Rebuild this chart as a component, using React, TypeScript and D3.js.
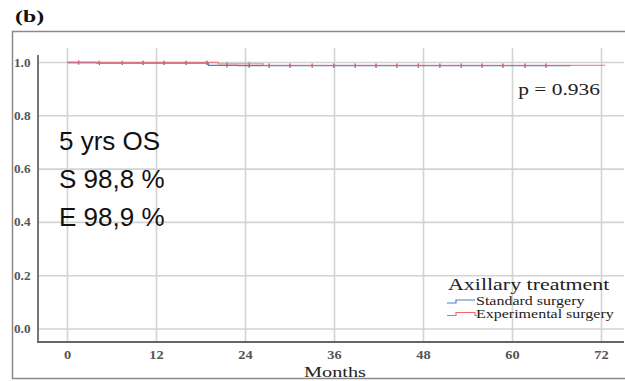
import React from "react";
import * as d3 from "d3";

const xTicks = [0, 12, 24, 36, 48, 60, 72];
const yTicks = [0.0, 0.2, 0.4, 0.6, 0.8, 1.0];

// Kaplan-Meier steps: [month, survival]
const standardSteps: [number, number][] = [
  [0, 1.0], [4, 0.998], [19, 0.989], [23, 0.988], [67.8, 0.988],
];
const experimentalSteps: [number, number][] = [
  [0, 1.0], [20.3, 0.995], [26.4, 0.989], [72.5, 0.989],
];
const censorMonths = [
  1.5, 4.3, 7.4, 10.2, 13.0, 16.0, 18.8, 21.5, 24.5, 27.2, 30.0, 33.0,
  35.9, 38.8, 41.6, 44.4, 47.3, 50.2, 53.1, 55.9, 58.7, 61.7, 64.5,
];
const annotationLines = ["5 yrs OS", "S 98,8 %", "E 98,9 %"];
const legendItems = [
  { label: "Standard surgery", color: "#4a7fd6" },
  { label: "Experimental surgery", color: "#f06a6a" },
];

function survAt(steps: [number, number][], t: number) {
  let v = steps[0][1];
  for (const [m, s] of steps) if (m <= t) v = s;
  return v;
}

const serif = "'Liberation Serif', 'DejaVu Serif', serif";

function SText(props: {
  x: number; y: number; sx: number; size: number; anchor?: string;
  weight?: string; fill?: string; children: React.ReactNode;
}) {
  const { x, y, sx, size, anchor, weight, fill, children } = props;
  return (
    <text
      transform={`translate(${x},${y}) scale(${sx},1)`}
      textAnchor={anchor || "start"}
      fontFamily={serif}
      fontWeight={weight || "normal"}
      fontSize={size}
      fill={fill || "#222"}
    >
      {children}
    </text>
  );
}

export default function App() {
  const W = 625, H = 381;
  const x = d3.scaleLinear().domain([0, 72]).range([67.5, 601.5]);
  const y = d3.scaleLinear().domain([0, 1]).range([329, 62.5]);
  const line = d3
    .line<[number, number]>()
    .x((d) => x(d[0]))
    .y((d) => y(d[1]))
    .curve(d3.curveStepAfter);
  const blue = legendItems[0].color;
  const red = legendItems[1].color;
  const stdEnd = standardSteps[standardSteps.length - 1][0];

  return (
    <svg width={W} height={H} style={{ position: "absolute", left: 0, top: 0 }}>
      <rect width={W} height={H} fill="#fff" />
      <SText x={15} y={22} sx={1.4} size={17} weight="bold" fill="#111">(b)</SText>
      {/* frame */}
      <path d={`M${W},31.5H12.5V378.5H${W}`} fill="none" stroke="#8a8a8a" strokeWidth={1.5} />
      {/* grid */}
      {xTicks.map((t) => (
        <line key={"gx" + t} x1={x(t)} x2={x(t)} y1={48} y2={341} stroke="#d3d3d3" strokeWidth={1.6} />
      ))}
      {yTicks.map((t) => (
        <line key={"gy" + t} x1={38} x2={624} y1={y(t)} y2={y(t)} stroke="#d3d3d3" strokeWidth={1.6} />
      ))}
      {/* axes */}
      <line x1={38} x2={38} y1={55} y2={342} stroke="#666" strokeWidth={1.8} />
      <line x1={37} x2={624} y1={342} y2={342} stroke="#666" strokeWidth={1.8} />
      {yTicks.map((t) => (
        <SText key={"yl" + t} x={14} y={y(t) + 4} sx={1.15} size={11.5} weight="bold" fill="#555">
          {t.toFixed(1)}
        </SText>
      ))}
      {xTicks.map((t) => (
        <SText key={"xl" + t} x={x(t)} y={359} sx={1.25} size={11.5} anchor="middle" weight="bold" fill="#555">
          {t}
        </SText>
      ))}
      <SText x={335} y={377} sx={1.35} size={15} anchor="middle" fill="#222">Months</SText>
      {/* curves */}
      <path d={line(standardSteps) || ""} fill="none" stroke={blue} strokeWidth={1.3} />
      {censorMonths.filter((m) => m < stdEnd).map((m) => (
        <line key={"cb" + m} x1={x(m)} x2={x(m)} y1={y(survAt(standardSteps, m)) - 2} y2={y(survAt(standardSteps, m)) + 2} stroke="#5a5aa0" strokeWidth={1.2} />
      ))}
      <path d={line(experimentalSteps) || ""} fill="none" stroke={red} strokeOpacity={0.75} strokeWidth={1.3} />
      {censorMonths.map((m) => (
        <line key={"cr" + m} x1={x(m)} x2={x(m)} y1={y(survAt(experimentalSteps, m)) - 2} y2={y(survAt(experimentalSteps, m)) + 2} stroke={red} strokeOpacity={0.85} strokeWidth={1.2} />
      ))}
      <SText x={600} y={95} sx={1.34} size={16} anchor="end" fill="#222">p = 0.936</SText>
      {annotationLines.map((s, i) => (
        <text key={s} x={59} y={150 + i * 38} fontFamily="'Liberation Sans', Arial, sans-serif" fontSize={26} fill="#111">{s}</text>
      ))}
      {/* legend */}
      <SText x={448} y={290} sx={1.33} size={16.5} fill="#222">Axillary treatment</SText>
      {legendItems.map((it, i) => {
        const yy = 303 + i * 12.5;
        return (
          <g key={it.label}>
            <path d={`M447,${yy}H456V${yy - 3}H475${i === 1 ? `V${yy}H477` : ""}`} fill="none" stroke={it.color} strokeWidth={1.2} />
            <SText x={476} y={yy + 2} sx={1.28} size={12.5} fill="#222">{it.label}</SText>
          </g>
        );
      })}
    </svg>
  );
}
